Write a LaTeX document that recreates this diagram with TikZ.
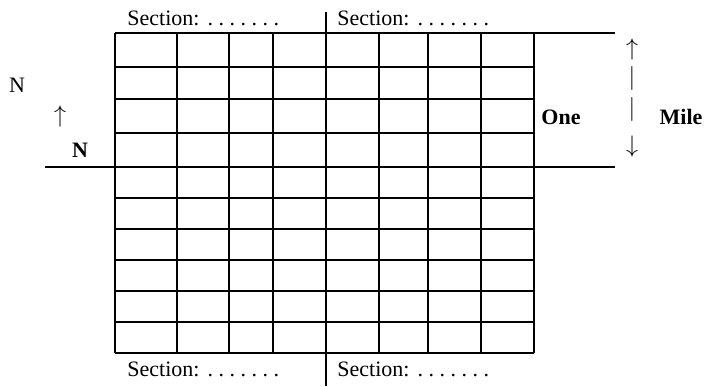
\documentclass[tikz,border=0pt]{standalone}
\usepackage{fontspec}
\setmainfont{Liberation Serif}
\begin{document}
\begin{tikzpicture}[x=0.5pt,y=-0.5pt,font=\fontsize{11}{13}\selectfont]
\tikzset{
  gridline/.style={line width=1pt},
  seclabel/.style={anchor=base west,inner sep=0pt},
  lbl/.style={inner sep=0pt},
  arrsym/.style={inner sep=0pt,font=\fontsize{13}{15}\selectfont},
  barsym/.style={inner sep=0pt,font=\fontsize{13}{15}\selectfont}
}
\useasboundingbox (0,0) rectangle (704,386);
% township grid
\foreach \y in {67,99,133,198,229,260,291,322,353}
  \draw[gridline] (115,\y) -- (534,\y);
\foreach \x in {115,177,229,273,379,428,481,534}
  \draw[gridline] (\x,33) -- (\x,353);
\draw[gridline] (115,33) -- (615,33);
\draw[gridline] (45,167) -- (615,167);
\draw[gridline] (326,12) -- (326,386);
% section labels
\node (secNW)[seclabel] at (127,25) {Section:\hspace{4pt}.\ .\ .\ .\ .\ .\ .};
\node (secNE)[seclabel] at (337,25) {Section:\hspace{4pt}.\ .\ .\ .\ .\ .\ .};
\node (secSW)[seclabel] at (127,376) {Section:\hspace{4pt}.\ .\ .\ .\ .\ .\ .};
\node (secSE)[seclabel] at (337,376) {Section:\hspace{4pt}.\ .\ .\ .\ .\ .\ .};
% north marker
\node (north)[lbl] at (17,85) {N};
\node (northArrow)[arrsym] at (60,116) {$\uparrow$};
\node (northBold)[lbl] at (80,150) {\textbf{N}};
% one mile marker
\node (one)[lbl] at (561,117) {\textbf{One}};
\node (mile)[lbl] at (681,117) {\textbf{Mile}};
\node (mileUp)[arrsym] at (632,49) {$\uparrow$};
\node (mileBarA)[barsym] at (632,78) {$|$};
\node (mileBarB)[barsym] at (632,109) {$|$};
\node (mileDown)[arrsym] at (632,146) {$\downarrow$};
\end{tikzpicture}
\end{document}
